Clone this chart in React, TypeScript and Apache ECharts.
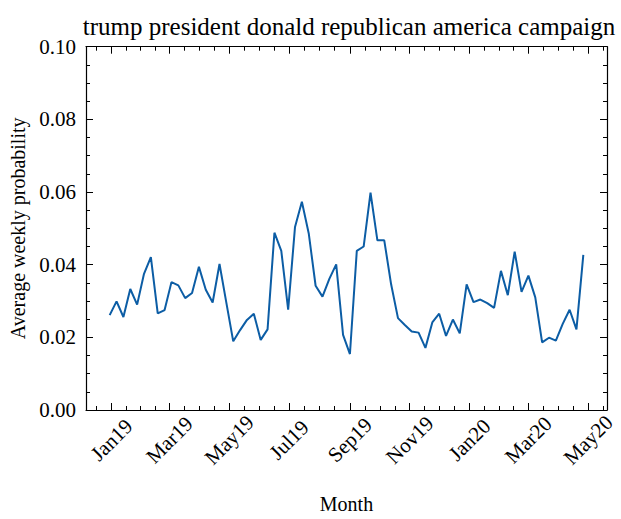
import React, { useEffect, useRef } from "react";
import * as echarts from "echarts";

// Weekly averages, one value per week starting on the Sunday below.
const firstWeek = [2018, 11, 30]; // year, month index, day
const weeklyProbability = [
  0.0261, 0.0299, 0.0256, 0.0333, 0.029, 0.0375, 0.0421, 0.0266, 0.0275, 0.0352,
  0.0343, 0.0308, 0.0322, 0.0394, 0.0331, 0.0296, 0.0402, 0.0295, 0.0189, 0.022,
  0.0248, 0.0265, 0.0193, 0.0222, 0.0488, 0.0438, 0.0276, 0.0504, 0.0573, 0.0486,
  0.0342, 0.0312, 0.0361, 0.0401, 0.0207, 0.0154, 0.0438, 0.045, 0.0598, 0.0467,
  0.0467, 0.0346, 0.0253, 0.0234, 0.0216, 0.0213, 0.0171, 0.0241, 0.0265, 0.0204,
  0.0249, 0.0211, 0.0346, 0.0297, 0.0304, 0.0294, 0.0281, 0.0383, 0.0316, 0.0436,
  0.0325, 0.037, 0.031, 0.0186, 0.0199, 0.0191, 0.0237, 0.0276, 0.0222, 0.0427,
];

// Major x ticks: first day of every second month.
const majorMonths: [number, number][] = [
  [2018, 10], [2019, 0], [2019, 2], [2019, 4], [2019, 6], [2019, 8], [2019, 10],
  [2020, 0], [2020, 2], [2020, 4], [2020, 6],
];
const monthNames = ["Jan", "Feb", "Mar", "Apr", "May", "Jun", "Jul", "Aug", "Sep", "Oct", "Nov", "Dec"];

const titleText = "trump president donald republican america campaign";
const xName = "Month";
const yName = "Average weekly probability";

const FONT = "Liberation Serif";
const INK = "#000";
const LINE = "#0C5DA5";
const DAY = 86400000;

export default function App() {
  const ref = useRef<HTMLDivElement>(null);

  useEffect(() => {
    if (!ref.current) return;
    const chart = echarts.init(ref.current, null, { renderer: "svg" });

    const start = new Date(firstWeek[0], firstWeek[1], firstWeek[2]).getTime();
    const points = weeklyProbability.map((v, i) => [start + i * 7 * DAY, v]);
    const first = points[0][0] as number;
    const last = points[points.length - 1][0] as number;
    const pad = (last - first) * 0.05;
    const xMin = first - pad;
    const xMax = last + pad;

    const majorAll = majorMonths.map(([y, m]) => new Date(y, m, 1).getTime());
    const minorAll: number[] = [];
    for (let i = 0; i < majorAll.length - 1; i++) {
      const a = majorAll[i];
      const b = majorAll[i + 1];
      for (let k = 1; k < 4; k++) minorAll.push(a + ((b - a) * k) / 4);
    }
    const majors = majorAll.filter((t) => t >= xMin && t <= xMax);
    const minors = minorAll.filter((t) => t >= xMin && t <= xMax);

    const tickStyle = { color: INK, width: 1 };
    const fmtMonth = (v: number) => {
      const d = new Date(v);
      return monthNames[d.getMonth()] + String(d.getFullYear()).slice(2);
    };

    // Dates are plotted as timestamps on a value axis so ticks can sit on month starts.
    const xBase = {
      type: "value" as const,
      min: xMin,
      max: xMax,
      scale: true,
      splitLine: { show: false },
    };

    const yBase = {
      type: "value" as const,
      min: 0,
      max: 0.1,
      interval: 0.02,
      splitLine: { show: false },
      axisLine: { show: true, lineStyle: { color: INK, width: 1.2 } },
      axisTick: { show: true, inside: true, length: 7, lineStyle: tickStyle },
      minorTick: { show: true, splitNumber: 4, length: 4, lineStyle: tickStyle },
      minorSplitLine: { show: false },
    };

    chart.setOption({
      animation: false,
      backgroundColor: "#fff",
      title: {
        text: titleText,
        left: 344,
        top: 9,
        textAlign: "center",
        textStyle: { fontFamily: FONT, fontSize: 25, fontWeight: "normal", color: INK },
      },
      grid: { left: 86, right: 14, top: 46.7, bottom: 92, containLabel: false },
      xAxis: [
        {
          ...xBase,
          position: "bottom",
          name: xName,
          nameLocation: "middle",
          nameGap: 84,
          nameTextStyle: { fontFamily: FONT, fontSize: 20, color: INK },
          axisLine: { show: true, onZero: false, lineStyle: { color: INK, width: 1.2 } },
          axisTick: { show: true, inside: true, length: 7, lineStyle: tickStyle, customValues: majors },
          axisLabel: {
            show: true,
            customValues: majors,
            rotate: 45,
            align: "center",
            verticalAlign: "middle",
            margin: 30,
            formatter: fmtMonth,
            fontFamily: FONT,
            fontSize: 21,
            color: INK,
          },
        },
        {
          ...xBase,
          position: "bottom",
          axisLine: { show: false, onZero: false },
          axisTick: { show: true, inside: true, length: 4, lineStyle: tickStyle, customValues: minors },
          axisLabel: { show: false },
        },
        {
          ...xBase,
          position: "top",
          axisLine: { show: true, onZero: false, lineStyle: { color: INK, width: 1.2 } },
          axisTick: { show: true, inside: true, length: 7, lineStyle: tickStyle, customValues: majors },
          axisLabel: { show: false },
        },
        {
          ...xBase,
          position: "top",
          axisLine: { show: false, onZero: false },
          axisTick: { show: true, inside: true, length: 4, lineStyle: tickStyle, customValues: minors },
          axisLabel: { show: false },
        },
      ],
      yAxis: [
        {
          ...yBase,
          position: "left",
          name: yName,
          nameLocation: "middle",
          nameGap: 58,
          nameTextStyle: { fontFamily: FONT, fontSize: 20, color: INK },
          axisLabel: {
            show: true,
            margin: 10,
            formatter: (v: number) => v.toFixed(2),
            fontFamily: FONT,
            fontSize: 21,
            color: INK,
          },
        },
        {
          ...yBase,
          position: "right",
          axisLabel: { show: false },
        },
      ],
      series: [
        {
          type: "line",
          xAxisIndex: 0,
          yAxisIndex: 0,
          data: points,
          symbol: "none",
          lineStyle: { color: LINE, width: 2 },
          z: 5,
        },
      ],
    });

    return () => chart.dispose();
  }, []);

  return (
    <div
      ref={ref}
      style={{ position: "fixed", left: 0, top: 0, width: 621, height: 519, background: "#fff" }}
    />
  );
}
